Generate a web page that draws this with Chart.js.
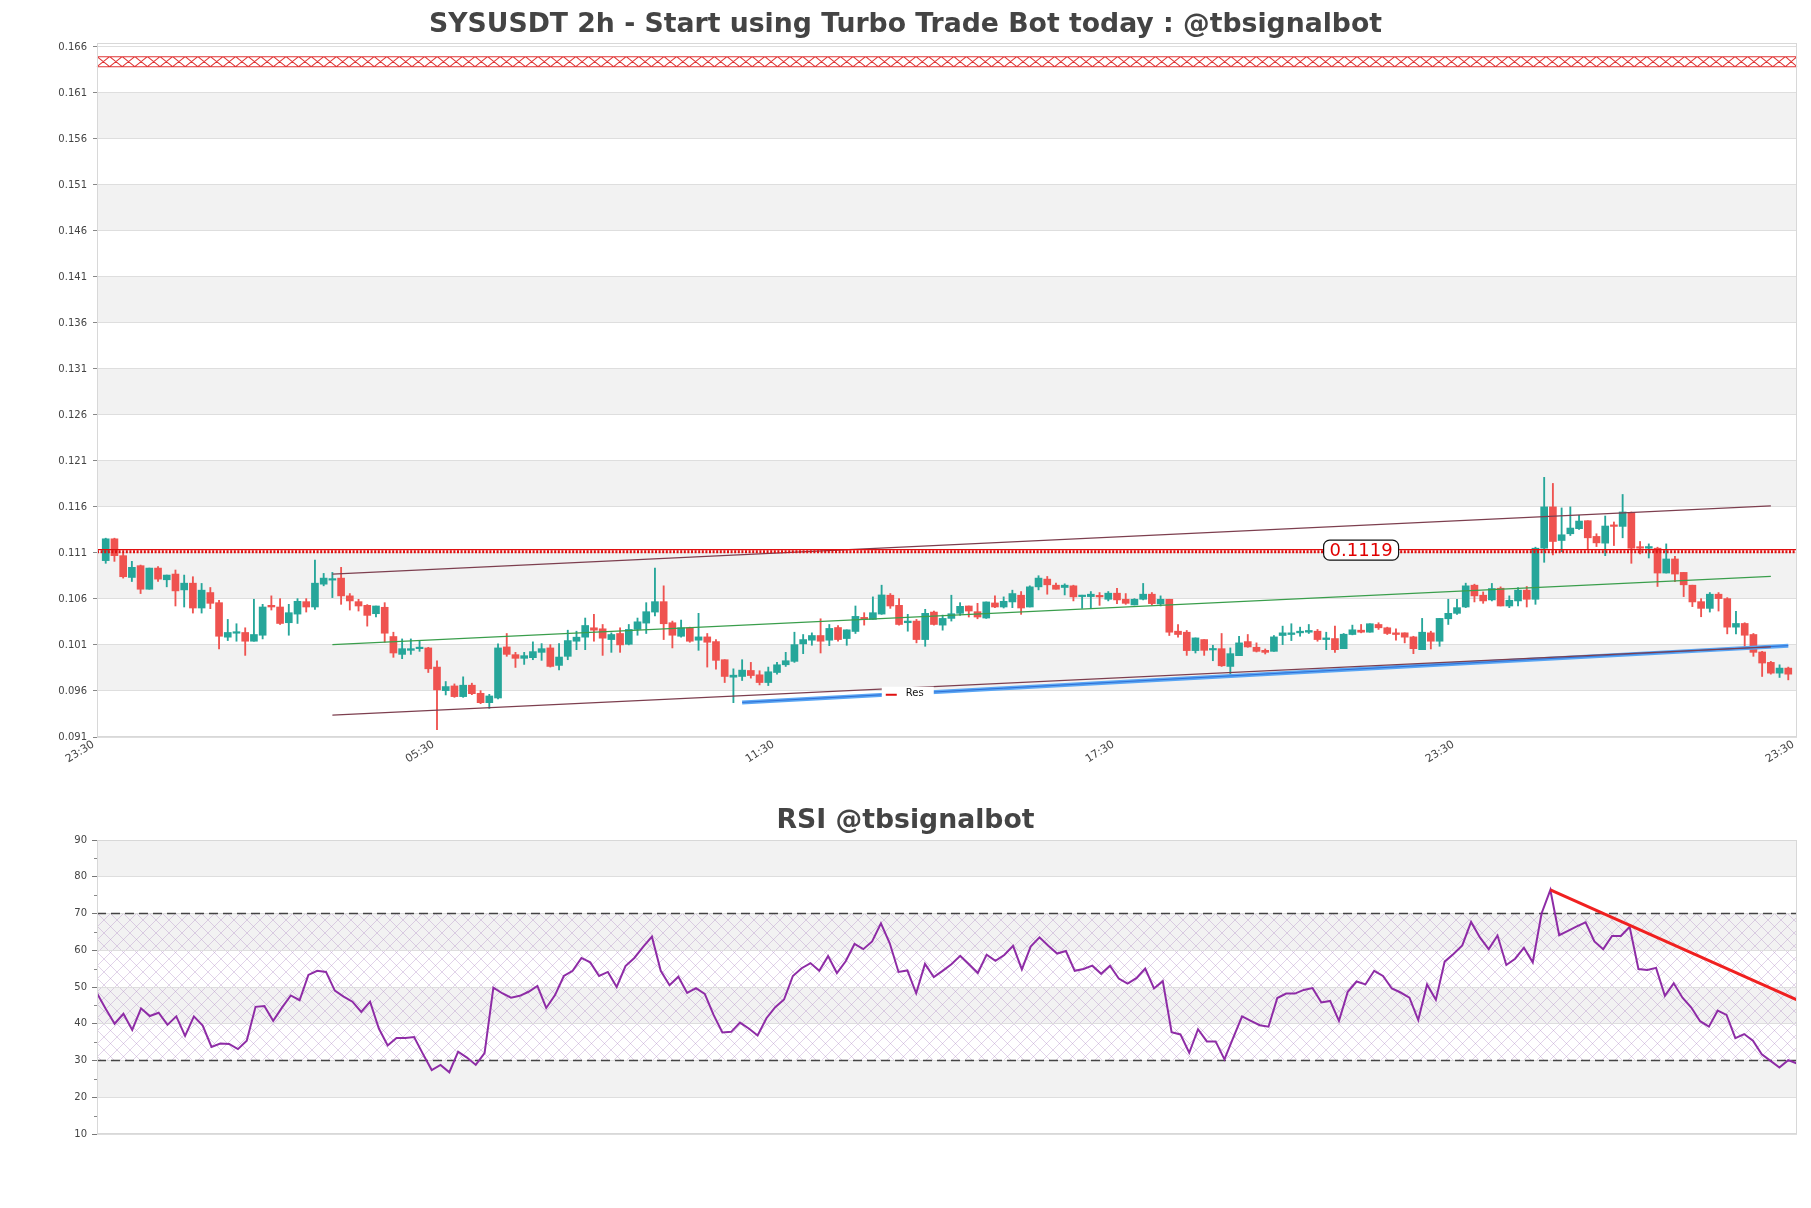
<!DOCTYPE html>
<html lang="en">
<head>
<meta charset="UTF-8">
<title>SYSUSDT 2h</title>
<script src="https://cdn.jsdelivr.net/npm/chart.js@4.4.1/dist/chart.umd.min.js"></script>
<style>
  html, body { margin: 0; padding: 0; background: #fff; }
  #wrap { position: relative; width: 1811px; height: 1208px; }
  #priceBox { position: absolute; left: 0; top: 0; width: 1811px; height: 790px; }
  #rsiBox { position: absolute; left: 0; top: 790px; width: 1811px; height: 418px; }
</style>
</head>
<body>
<div id="wrap">
  <div id="priceBox"><canvas id="priceChart" width="1811" height="790"></canvas></div>
  <div id="rsiBox"><canvas id="rsiChart" width="1811" height="418"></canvas></div>
</div>
<script>
// candles, 2h
const OPEN = [
  0.11017, 0.11254, 0.11071, 0.10834, 0.10962, 0.10706, 0.10936, 0.10809, 0.10871, 0.10699,
  0.10772, 0.10502, 0.10670, 0.10560, 0.10185, 0.10228, 0.10236, 0.10141, 0.10206, 0.10531,
  0.10513, 0.10342, 0.10436, 0.10571, 0.10513, 0.10761, 0.10805, 0.10827, 0.10634, 0.10571,
  0.10531, 0.10440, 0.10510, 0.10192, 0.09998, 0.10042, 0.10060, 0.10068, 0.09860, 0.09604,
  0.09655, 0.09539, 0.09663, 0.09575, 0.09473, 0.09524, 0.10079, 0.09995, 0.09955, 0.09962,
  0.10020, 0.10068, 0.09878, 0.09977, 0.10141, 0.10185, 0.10287, 0.10276, 0.10159, 0.10225,
  0.10108, 0.10269, 0.10338, 0.10458, 0.10571, 0.10342, 0.10195, 0.10287, 0.10152, 0.10188,
  0.10137, 0.09940, 0.09750, 0.09758, 0.09823, 0.09776, 0.09692, 0.09801, 0.09885, 0.09922,
  0.10112, 0.10152, 0.10203, 0.10152, 0.10290, 0.10170, 0.10247, 0.10400, 0.10378, 0.10436,
  0.10641, 0.10531, 0.10342, 0.10360, 0.10159, 0.10458, 0.10316, 0.10389, 0.10444, 0.10524,
  0.10462, 0.10393, 0.10557, 0.10513, 0.10568, 0.10641, 0.10513, 0.10732, 0.10816, 0.10750,
  0.10725, 0.10743, 0.10626, 0.10626, 0.10634, 0.10597, 0.10663, 0.10597, 0.10535, 0.10597,
  0.10652, 0.10546, 0.10597, 0.10250, 0.10239, 0.10039, 0.10159, 0.10046, 0.10060, 0.09867,
  0.09984, 0.10137, 0.10075, 0.10042, 0.10031, 0.10203, 0.10214, 0.10232, 0.10239, 0.10250,
  0.10159, 0.10170, 0.10060, 0.10214, 0.10261, 0.10239, 0.10323, 0.10287, 0.10232, 0.10232,
  0.10188, 0.10049, 0.10232, 0.10141, 0.10385, 0.10444, 0.10513, 0.10750, 0.10641, 0.10590,
  0.10717, 0.10524, 0.10579, 0.10696, 0.10597, 0.11152, 0.11601, 0.11236, 0.11309, 0.11364,
  0.11451, 0.11280, 0.11207, 0.11404, 0.11389, 0.11539, 0.11163, 0.11152, 0.11152, 0.10882,
  0.11035, 0.10889, 0.10750, 0.10571, 0.10498, 0.10652, 0.10604, 0.10294, 0.10334, 0.10214,
  0.10024, 0.09911, 0.09794, 0.09849
];
const HIGH = [
  0.11261, 0.11261, 0.11100, 0.11009, 0.10969, 0.10936, 0.10951, 0.10860, 0.10915, 0.10860,
  0.10842, 0.10769, 0.10725, 0.10586, 0.10378, 0.10331, 0.10287, 0.10597, 0.10542, 0.10634,
  0.10604, 0.10542, 0.10604, 0.10604, 0.11024, 0.10878, 0.10889, 0.10944, 0.10659, 0.10597,
  0.10539, 0.10524, 0.10560, 0.10239, 0.10166, 0.10166, 0.10141, 0.10075, 0.09929, 0.09703,
  0.09677, 0.09754, 0.09685, 0.09604, 0.09564, 0.10112, 0.10225, 0.10020, 0.10020, 0.10134,
  0.10115, 0.10104, 0.10115, 0.10261, 0.10250, 0.10393, 0.10433, 0.10323, 0.10232, 0.10287,
  0.10323, 0.10393, 0.10560, 0.10936, 0.10743, 0.10360, 0.10371, 0.10294, 0.10444, 0.10225,
  0.10159, 0.09940, 0.09841, 0.09940, 0.09911, 0.09820, 0.09860, 0.09911, 0.10020, 0.10239,
  0.10214, 0.10232, 0.10385, 0.10323, 0.10312, 0.10265, 0.10524, 0.10451, 0.10623, 0.10750,
  0.10659, 0.10604, 0.10433, 0.10378, 0.10488, 0.10469, 0.10425, 0.10641, 0.10560, 0.10524,
  0.10553, 0.10568, 0.10634, 0.10623, 0.10696, 0.10681, 0.10743, 0.10853, 0.10845, 0.10772,
  0.10765, 0.10750, 0.10641, 0.10681, 0.10670, 0.10681, 0.10717, 0.10659, 0.10604, 0.10769,
  0.10670, 0.10634, 0.10597, 0.10323, 0.10258, 0.10177, 0.10159, 0.10097, 0.10225, 0.10068,
  0.10195, 0.10214, 0.10123, 0.10057, 0.10203, 0.10305, 0.10331, 0.10294, 0.10323, 0.10269,
  0.10239, 0.10305, 0.10225, 0.10316, 0.10323, 0.10331, 0.10342, 0.10294, 0.10276, 0.10232,
  0.10195, 0.10389, 0.10250, 0.10389, 0.10597, 0.10597, 0.10772, 0.10761, 0.10677, 0.10769,
  0.10732, 0.10634, 0.10725, 0.10736, 0.11163, 0.11922, 0.11856, 0.11590, 0.11601, 0.11509,
  0.11451, 0.11309, 0.11502, 0.11437, 0.11736, 0.11546, 0.11225, 0.11199, 0.11163, 0.11199,
  0.11064, 0.10889, 0.10750, 0.10604, 0.10670, 0.10670, 0.10615, 0.10466, 0.10342, 0.10225,
  0.10031, 0.09922, 0.09885, 0.09860
];
const LOW = [
  0.10988, 0.11009, 0.10827, 0.10790, 0.10659, 0.10706, 0.10790, 0.10732, 0.10524, 0.10513,
  0.10447, 0.10447, 0.10495, 0.10057, 0.10148, 0.10141, 0.09987, 0.10141, 0.10166, 0.10480,
  0.10323, 0.10206, 0.10334, 0.10458, 0.10488, 0.10743, 0.10615, 0.10542, 0.10480, 0.10469,
  0.10305, 0.10404, 0.10130, 0.09966, 0.09951, 0.09998, 0.10031, 0.09801, 0.09181, 0.09557,
  0.09531, 0.09531, 0.09560, 0.09462, 0.09411, 0.09513, 0.09977, 0.09856, 0.09889, 0.09940,
  0.09933, 0.09860, 0.09830, 0.09940, 0.10049, 0.10049, 0.10141, 0.09987, 0.10020, 0.10020,
  0.10101, 0.10206, 0.10225, 0.10415, 0.10159, 0.10068, 0.10185, 0.10130, 0.10042, 0.09860,
  0.09838, 0.09692, 0.09473, 0.09714, 0.09740, 0.09666, 0.09659, 0.09783, 0.09867, 0.09911,
  0.10006, 0.10097, 0.10013, 0.10093, 0.10141, 0.10097, 0.10225, 0.10316, 0.10378, 0.10433,
  0.10498, 0.10316, 0.10250, 0.10123, 0.10086, 0.10316, 0.10261, 0.10360, 0.10422, 0.10404,
  0.10385, 0.10389, 0.10506, 0.10502, 0.10506, 0.10433, 0.10513, 0.10699, 0.10652, 0.10706,
  0.10644, 0.10579, 0.10498, 0.10498, 0.10531, 0.10579, 0.10550, 0.10542, 0.10535, 0.10590,
  0.10535, 0.10524, 0.10203, 0.10185, 0.09987, 0.10013, 0.09987, 0.09929, 0.09867, 0.09776,
  0.09984, 0.10075, 0.10024, 0.10002, 0.10031, 0.10104, 0.10148, 0.10195, 0.10225, 0.10141,
  0.10049, 0.10020, 0.10060, 0.10210, 0.10232, 0.10239, 0.10269, 0.10214, 0.10152, 0.10123,
  0.10006, 0.10049, 0.10057, 0.10086, 0.10323, 0.10433, 0.10506, 0.10568, 0.10553, 0.10579,
  0.10524, 0.10506, 0.10524, 0.10513, 0.10542, 0.10999, 0.11079, 0.11115, 0.11290, 0.11356,
  0.11145, 0.11170, 0.11071, 0.11181, 0.11265, 0.10988, 0.11090, 0.11046, 0.10736, 0.10882,
  0.10787, 0.10626, 0.10517, 0.10407, 0.10458, 0.10469, 0.10221, 0.10221, 0.10075, 0.09977,
  0.09758, 0.09783, 0.09747, 0.09721
];
const CLOSE = [
  0.11254, 0.11071, 0.10842, 0.10944, 0.10706, 0.10936, 0.10816, 0.10860, 0.10688, 0.10772,
  0.10502, 0.10696, 0.10553, 0.10195, 0.10236, 0.10239, 0.10141, 0.10214, 0.10513, 0.10513,
  0.10334, 0.10451, 0.10575, 0.10513, 0.10772, 0.10827, 0.10816, 0.10634, 0.10579, 0.10524,
  0.10422, 0.10524, 0.10228, 0.10013, 0.10060, 0.10060, 0.10068, 0.09841, 0.09612, 0.09648,
  0.09539, 0.09663, 0.09571, 0.09473, 0.09546, 0.10068, 0.09998, 0.09955, 0.09984, 0.10028,
  0.10060, 0.09867, 0.09969, 0.10148, 0.10185, 0.10312, 0.10261, 0.10174, 0.10214, 0.10101,
  0.10269, 0.10352, 0.10462, 0.10571, 0.10331, 0.10206, 0.10287, 0.10141, 0.10188, 0.10130,
  0.09933, 0.09758, 0.09772, 0.09827, 0.09768, 0.09692, 0.09809, 0.09885, 0.09929, 0.10104,
  0.10159, 0.10203, 0.10141, 0.10280, 0.10159, 0.10265, 0.10411, 0.10378, 0.10451, 0.10644,
  0.10524, 0.10323, 0.10360, 0.10159, 0.10444, 0.10323, 0.10389, 0.10440, 0.10520, 0.10469,
  0.10404, 0.10568, 0.10513, 0.10575, 0.10659, 0.10502, 0.10732, 0.10827, 0.10754, 0.10706,
  0.10750, 0.10623, 0.10641, 0.10652, 0.10623, 0.10663, 0.10590, 0.10553, 0.10597, 0.10652,
  0.10550, 0.10597, 0.10239, 0.10214, 0.10039, 0.10177, 0.10042, 0.10057, 0.09874, 0.10006,
  0.10123, 0.10079, 0.10031, 0.10020, 0.10188, 0.10232, 0.10232, 0.10250, 0.10258, 0.10159,
  0.10177, 0.10049, 0.10217, 0.10265, 0.10239, 0.10331, 0.10287, 0.10225, 0.10214, 0.10185,
  0.10060, 0.10239, 0.10141, 0.10389, 0.10444, 0.10506, 0.10743, 0.10634, 0.10579, 0.10714,
  0.10524, 0.10586, 0.10696, 0.10597, 0.11152, 0.11601, 0.11225, 0.11298, 0.11371, 0.11447,
  0.11265, 0.11210, 0.11393, 0.11389, 0.11546, 0.11152, 0.11152, 0.11170, 0.10882, 0.11035,
  0.10871, 0.10754, 0.10568, 0.10498, 0.10652, 0.10604, 0.10294, 0.10334, 0.10206, 0.10020,
  0.09904, 0.09794, 0.09849, 0.09783
];

const RSI = [
  48.3, 44.0, 40.0, 42.7, 38.3, 44.2, 42.1, 43.0, 39.7, 42.0,
  36.7, 42.0, 39.5, 33.7, 34.6, 34.5, 33.1, 35.4, 44.6, 44.8,
  40.8, 44.4, 47.7, 46.4, 53.3, 54.4, 54.1, 49.0, 47.4, 46.0,
  43.2, 46.0, 38.7, 34.1, 36.1, 36.1, 36.4, 31.8, 27.4, 28.8,
  26.8, 32.4, 30.8, 28.8, 32.0, 49.8, 48.3, 47.1, 47.6, 48.7,
  50.3, 44.3, 47.8, 53.0, 54.4, 57.9, 56.7, 53.0, 54.1, 50.0,
  55.7, 57.9, 60.9, 63.7, 54.4, 50.5, 52.8, 48.4, 49.7, 48.1,
  42.4, 37.6, 37.8, 40.3, 38.7, 36.8, 41.5, 44.5, 46.6, 53.0,
  55.1, 56.5, 54.4, 58.4, 53.8, 57.0, 61.7, 60.3, 62.4, 67.3,
  61.9, 54.1, 54.5, 48.3, 56.3, 52.7, 54.4, 56.2, 58.5, 56.2,
  53.8, 58.8, 57.1, 58.7, 61.2, 54.8, 61.0, 63.5, 61.2, 59.1,
  59.8, 54.4, 54.9, 55.8, 53.6, 55.8, 52.3, 50.9, 52.4, 55.0,
  49.6, 51.6, 37.7, 37.1, 32.1, 38.5, 35.2, 35.2, 30.3, 36.2,
  42.0, 40.8, 39.6, 39.2, 47.0, 48.2, 48.2, 49.2, 49.7, 45.8,
  46.2, 40.8, 48.7, 51.5, 50.7, 54.4, 53.0, 49.6, 48.5, 47.1,
  41.0, 50.7, 46.5, 56.9, 59.0, 61.3, 67.7, 63.5, 60.3, 64.0,
  56.0, 57.7, 60.7, 56.7, 70.0, 76.4, 64.1, 65.3, 66.5, 67.6,
  62.4, 60.3, 63.9, 63.9, 66.4, 54.9, 54.6, 55.2, 47.6, 51.0,
  47.1, 44.4, 40.7, 39.2, 43.6, 42.4, 36.1, 37.2, 35.4, 31.7,
  29.9, 28.1, 30.1, 29.2
];

// tick labels
const Y_TICKS = [0.091, 0.096, 0.101, 0.106, 0.111, 0.116, 0.121, 0.126,
                 0.131, 0.136, 0.141, 0.146, 0.151, 0.156, 0.161, 0.166];
const X_LABELS = ['23:30', '05:30', '11:30', '17:30', '23:30', '23:30'];

// drawn levels and trend lines: [candle index, price]
const RES_LEVEL = 0.1112;
const RES_LABEL = '0.1119';
const TOP_LEVEL = 0.1644;
const CH_UPPER = [[26, 0.10871], [191, 0.11612]];
const CH_MID = [[26, 0.10104], [191, 0.10845]];
const CH_LOWER = [[26, 0.09338], [191, 0.10080]];
const SUPPORT = [[73, 0.09476], [193, 0.10093]];
const RSI_TREND = [[165, 76.4], [193, 46.5]];
const RSI_BOUNDS = [30, 70];

const UP = '#26a69a';
const DOWN = '#ef5350';
const FONT = "'DejaVu Sans', sans-serif";

Chart.defaults.font.family = FONT;
Chart.defaults.color = '#444';
Chart.defaults.animation = false;

const seg = (pts) => pts.map(([x, y]) => ({ x, y }));

// alternating grey bands between y ticks
const bandsPlugin = {
  id: 'bands',
  beforeDraw(chart) {
    const { ctx, chartArea: a, scales: { y } } = chart;
    const vals = y.ticks.map(t => t.value);
    ctx.save();
    ctx.fillStyle = '#f2f2f2';
    for (let k = 1; k < vals.length - 1; k += 2) {
      const top = y.getPixelForValue(vals[k + 1]);
      const bot = y.getPixelForValue(vals[k]);
      ctx.fillRect(a.left, top, a.width, bot - top);
    }
    ctx.restore();
  }
};

const framePlugin = {
  id: 'frame',
  afterDraw(chart) {
    const { ctx, chartArea: a } = chart;
    ctx.save();
    ctx.strokeStyle = '#d8d8d8';
    ctx.lineWidth = 1;
    ctx.strokeRect(a.left + 0.5, a.top + 0.5, a.width - 1, a.height - 1);
    ctx.restore();
  }
};

function titlePlugin(text, y) {
  return {
    id: 'titleText',
    afterDraw(chart) {
      const ctx = chart.ctx;
      ctx.save();
      ctx.font = 'bold 26.7px ' + FONT;
      ctx.fillStyle = '#444';
      ctx.textAlign = 'center';
      ctx.textBaseline = 'middle';
      ctx.fillText(text, chart.width / 2, y);
      ctx.restore();
    }
  };
}

// red resistance line, x-pattern line at the top, value tag and "Res" legend
const levelsPlugin = {
  id: 'levels',
  afterDatasetsDraw(chart) {
    const { ctx, chartArea: a, scales: { x, y } } = chart;
    ctx.save();

    // top hatched line
    const ty = y.getPixelForValue(TOP_LEVEL);
    const h = 5;
    ctx.strokeStyle = '#e03434';
    ctx.lineWidth = 1.1;
    ctx.beginPath();
    ctx.moveTo(a.left, ty - h); ctx.lineTo(a.right, ty - h);
    ctx.moveTo(a.left, ty + h); ctx.lineTo(a.right, ty + h);
    for (let px = a.left; px < a.right - 1; px += 12.6) {
      const nx = Math.min(px + 12.6, a.right);
      ctx.moveTo(px, ty - h); ctx.lineTo(nx, ty + h);
      ctx.moveTo(px, ty + h); ctx.lineTo(nx, ty - h);
    }
    ctx.stroke();

    // dotted resistance
    const ry = y.getPixelForValue(RES_LEVEL);
    ctx.strokeStyle = '#e01010';
    ctx.lineWidth = 1.2;
    ctx.beginPath();
    ctx.moveTo(a.left, ry - 1.5); ctx.lineTo(a.right, ry - 1.5);
    ctx.stroke();
    ctx.lineWidth = 3;
    ctx.setLineDash([2, 1.6]);
    ctx.beginPath();
    ctx.moveTo(a.left, ry + 0.5); ctx.lineTo(a.right, ry + 0.5);
    ctx.stroke();
    ctx.setLineDash([]);

    // value tag
    ctx.font = '18px ' + FONT;
    const tw = ctx.measureText(RES_LABEL).width;
    const cx = x.getPixelForValue(144);
    const bw = tw + 12, bh = 20;
    ctx.beginPath();
    ctx.roundRect(cx - bw / 2, ry - bh / 2 - 1, bw, bh, 6);
    ctx.fillStyle = '#fff';
    ctx.fill();
    ctx.strokeStyle = '#111';
    ctx.lineWidth = 1.2;
    ctx.stroke();
    ctx.fillStyle = '#e00000';
    ctx.textAlign = 'center';
    ctx.textBaseline = 'middle';
    ctx.fillText(RES_LABEL, cx, ry);

    // legend "Res"
    const lx = x.getPixelForValue(92) - 26;
    const ly = y.getPixelForValue(0.0957);
    ctx.fillStyle = '#fff';
    ctx.fillRect(lx, ly - 7, 52, 14);
    ctx.strokeStyle = '#e01010';
    ctx.lineWidth = 2;
    ctx.beginPath();
    ctx.moveTo(lx + 4, ly + 1); ctx.lineTo(lx + 15, ly + 1);
    ctx.stroke();
    ctx.fillStyle = '#111';
    ctx.font = '10px ' + FONT;
    ctx.textAlign = 'left';
    ctx.fillText('Res', lx + 24, ly);
    ctx.restore();
  }
};

const idx = OPEN.map((_, i) => i);
const candleColors = idx.map(i => CLOSE[i] >= OPEN[i] ? UP : DOWN);
const X_MIN = -1;
const X_MAX = OPEN.length;

new Chart(document.getElementById('priceChart'), {
  type: 'bar',
  data: {
    datasets: [
      { type: 'line', data: seg(CH_UPPER), borderColor: '#7d3f4f', borderWidth: 1.2, pointRadius: 0 },
      { type: 'line', data: seg(CH_LOWER), borderColor: '#7d3f4f', borderWidth: 1.2, pointRadius: 0 },
      { type: 'line', data: seg(CH_MID), borderColor: '#3a9e4c', borderWidth: 1.2, pointRadius: 0 },
      { type: 'line', data: seg(SUPPORT), borderColor: '#2f6fd6', borderWidth: 1, pointRadius: 0 },
      { type: 'line', data: seg(SUPPORT), borderColor: '#5aa6f4', borderWidth: 4, pointRadius: 0 },
      {
        data: idx.map(i => ({ x: i, y: [OPEN[i], CLOSE[i]] })),
        backgroundColor: candleColors, barThickness: 7, minBarLength: 1.5, grouped: false
      },
      {
        data: idx.map(i => ({ x: i, y: [LOW[i], HIGH[i]] })),
        backgroundColor: candleColors, barThickness: 1.2, grouped: false
      }
    ]
  },
  options: {
    responsive: false,
    layout: { padding: { top: 43, right: 14, left: 0, bottom: 0 } },
    plugins: { legend: { display: false }, tooltip: { enabled: false }, title: { display: false } },
    scales: {
      x: {
        type: 'linear', min: X_MIN, max: X_MAX, offset: false,
        grid: { display: false, drawTicks: false }, border: { display: false },
        afterBuildTicks: (s) => {
          const step = (X_MAX - X_MIN) / (X_LABELS.length - 1);
          s.ticks = X_LABELS.map((_, k) => ({ value: X_MIN + k * step }));
        },
        afterFit: (s) => { s.height = 53; },
        ticks: {
          autoSkip: false, minRotation: 32, maxRotation: 32, padding: 1, labelOffset: -3.5,
          font: { size: 11 }, color: '#444',
          callback: (v, i) => X_LABELS[i]
        }
      },
      y: {
        min: Y_TICKS[0], max: 0.16643,
        afterBuildTicks: (s) => { s.ticks = Y_TICKS.map(v => ({ value: v })); },
        afterFit: (s) => { s.width = 97; },
        grid: { color: '#dedede', tickColor: '#888', tickLength: 4 },
        border: { display: false },
        ticks: { font: { size: 10 }, color: '#444', padding: 6, callback: (v) => v.toFixed(3) }
      }
    }
  },
  plugins: [bandsPlugin, levelsPlugin, framePlugin,
            titlePlugin('SYSUSDT 2h - Start using Turbo Trade Bot today : @tbsignalbot', 25)]
});

// RSI panel
const hatchPlugin = {
  id: 'hatch',
  beforeDraw(chart) {
    const { ctx, chartArea: a, scales: { y } } = chart;
    const c = document.createElement('canvas');
    c.width = c.height = 13;
    const g = c.getContext('2d');
    g.strokeStyle = 'rgba(180,145,200,0.5)';
    g.lineWidth = 0.8;
    g.beginPath();
    g.moveTo(0, 0); g.lineTo(13, 13);
    g.moveTo(13, 0); g.lineTo(0, 13);
    g.stroke();
    const top = y.getPixelForValue(RSI_BOUNDS[1]);
    const bot = y.getPixelForValue(RSI_BOUNDS[0]);
    ctx.save();
    ctx.fillStyle = ctx.createPattern(c, 'repeat');
    ctx.fillRect(a.left, top, a.width, bot - top);
    ctx.restore();
  }
};

const minorTicksPlugin = {
  id: 'minorTicks',
  afterDraw(chart) {
    const { ctx, chartArea: a, scales: { y } } = chart;
    ctx.save();
    ctx.strokeStyle = '#888';
    ctx.lineWidth = 1;
    ctx.beginPath();
    for (let v = y.min + 5; v < y.max; v += 10) {
      const py = Math.round(y.getPixelForValue(v)) + 0.5;
      ctx.moveTo(a.left - 3, py); ctx.lineTo(a.left, py);
    }
    ctx.stroke();
    ctx.restore();
  }
};

const rsiIdx = RSI.map((_, i) => i);
const lastI = RSI.length - 1;

new Chart(document.getElementById('rsiChart'), {
  type: 'line',
  data: {
    datasets: [
      { data: seg(RSI_TREND), borderColor: '#f02020', borderWidth: 3, pointRadius: 0 },
      { data: rsiIdx.map(i => ({ x: i, y: RSI[i] })), borderColor: '#8e2ca6', borderWidth: 2, pointRadius: 0, tension: 0 },
      { data: seg([[0, RSI_BOUNDS[1]], [lastI, RSI_BOUNDS[1]]]), borderColor: '#444', borderWidth: 1.3, borderDash: [9, 5], pointRadius: 0 },
      { data: seg([[0, RSI_BOUNDS[0]], [lastI, RSI_BOUNDS[0]]]), borderColor: '#444', borderWidth: 1.3, borderDash: [9, 5], pointRadius: 0 }
    ]
  },
  options: {
    responsive: false,
    layout: { padding: { top: 50, right: 14, left: 0, bottom: 74 } },
    plugins: { legend: { display: false }, tooltip: { enabled: false }, title: { display: false } },
    scales: {
      x: { type: 'linear', min: 0, max: lastI, display: false },
      y: {
        min: 10, max: 90,
        afterFit: (s) => { s.width = 97; },
        grid: { color: '#dedede', tickColor: '#777', tickLength: 5 },
        border: { display: false },
        ticks: { stepSize: 10, font: { size: 10 }, color: '#444', padding: 5 }
      }
    }
  },
  plugins: [bandsPlugin, hatchPlugin, minorTicksPlugin, framePlugin, titlePlugin('RSI @tbsignalbot', 31)]
});
</script>
</body>
</html>
